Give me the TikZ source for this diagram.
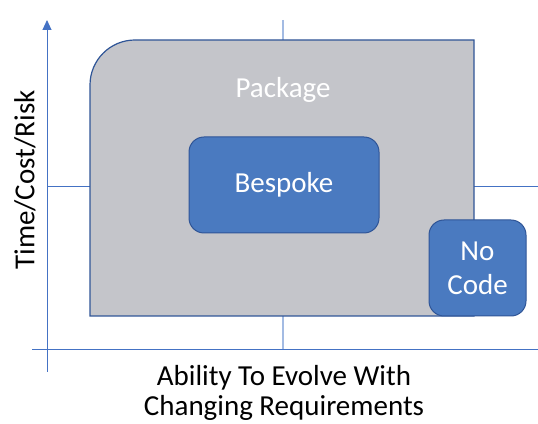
\documentclass[tikz,border=0pt]{standalone}
\usepackage{fontspec}
\setmainfont{Carlito}
\usetikzlibrary{arrows.meta}
\definecolor{axisblue}{HTML}{4472C4}
\definecolor{lineblue}{HTML}{A3BBE3}
\definecolor{edgeblue}{HTML}{2F5597}
\definecolor{boxblue}{HTML}{4A7AC0}
\definecolor{pkggray}{HTML}{C4C5CA}
\tikzset{
	axis/.style={draw=axisblue, line width=0.9pt},
	guide/.style={draw=lineblue, line width=2pt},
	approach/.style={draw=edgeblue, fill=boxblue, line width=1pt, rounded corners=15pt,
		text=white, font=\fontsize{29}{34}\selectfont, align=center, inner sep=0pt},
	caption/.style={font=\fontsize{29}{30}\selectfont, align=center}
}

\begin{document}
\begin{tikzpicture}[x=1pt, y=1pt]
			%%%%% START %%%%%
			\useasboundingbox (0, 0) rectangle (538, 423);
			
			% guide lines
			\coordinate (gtop) at (283, 403);
			\coordinate (gbot) at (283, 74);
			\coordinate (gleft) at (47, 237);
			\coordinate (gright) at (538, 237);
			\draw[guide] (gtop) -- (gbot);
			\draw[axis] (gleft) -- (gright);
			
			% axes
			\coordinate (ybot) at (47, 51);
			\coordinate (ytop) at (47, 403);
			\coordinate (xleft) at (32, 74);
			\coordinate (xright) at (538, 74);
			\draw[axis, -{Triangle[width=9pt, length=10pt]}] (ybot) -- (ytop);
			\draw[axis] (xleft) -- (xright);
			
			% package area
			\draw[draw=edgeblue, fill=pkggray, line width=1.2pt] (90, 107) -- (90, 338)
				arc[start angle=180, end angle=90, radius=45pt] -- (474, 383) -- (474, 107) -- cycle;
			\node[text=white, font=\fontsize{29}{34}\selectfont] (package) at (283, 333) {Package};
			
			\node[approach, minimum width=190pt, minimum height=96pt] (bespoke) at (284, 238) {Bespoke};
			\node[approach, minimum width=97pt, minimum height=96pt] (nocode) at (477.5, 155) {No\\Code};
			
			% axis labels
			\node[caption, rotate=90] (ylabel) at (25, 243) {Time/Cost/Risk};
			\node[caption] (xlabel) at (284, 30) {Ability To Evolve With\\Changing Requirements};
			%%%%% END %%%%%
		\end{tikzpicture}
\end{document}
